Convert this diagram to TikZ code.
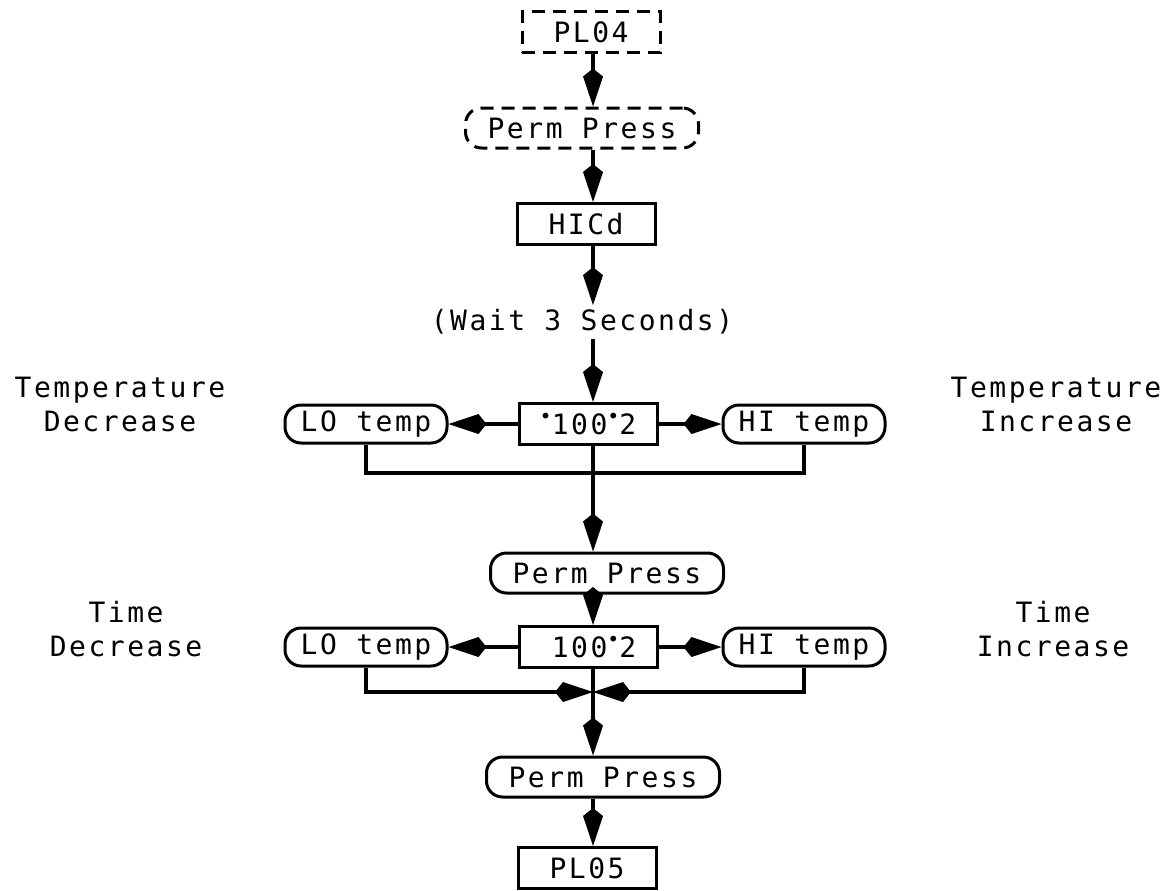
\documentclass[tikz,border=0pt]{standalone}
\usepackage{fontspec}
\setmonofont[LetterSpace=9]{DejaVu Sans Mono}
\usepackage{tikz}
\usetikzlibrary{arrows.meta}

% small raised dot of the display
\newcommand{\topdot}{\raisebox{0.4em}{\fontsize{10}{10}\selectfont •}}

\begin{document}
\begin{tikzpicture}[
  x=0.5pt,y=-0.5pt,
  font=\ttfamily\fontsize{14}{17}\selectfont,
  every node/.style={align=center},
  displayBox/.style={draw,line width=1.5pt,minimum width=69pt,minimum height=20.5pt,inner sep=0pt},
  dashedBox/.style={displayBox,dash pattern=on 6.5pt off 4pt},
  keyPill/.style={draw,line width=1.5pt,rounded corners=8pt,minimum width=116.5pt,minimum height=20pt,inner sep=0pt},
  dashedPill/.style={keyPill,dash pattern=on 6.5pt off 4pt},
  shortPill/.style={keyPill,minimum width=81pt,minimum height=19pt},
  waitText/.style={inner sep=2pt},
  sideLabel/.style={inner sep=0pt},
  flowArrow/.style={-{Kite[length=19pt,width=10pt,inset=4pt]},line width=1.7pt},
  bracketLine/.style={line width=1.7pt}]

  \useasboundingbox (0,0) rectangle (1174,890);

  % axis of the main flow
  \coordinate (axis) at (593,0);

  % start of the sequence
  \node[dashedBox] (pl04) at (591,32) {PL04};
  \node[dashedPill] (permA) at (582,128) {Perm Press};
  \node[displayBox] (hicd) at (586,224) {HICd};
  \node[waitText] (wait) at (582,322) {(Wait 3 Seconds)};

  % temperature setting
  \node[displayBox] (tdisp) at (588,424) {\topdot100\topdot2};
  \node[shortPill] (tlo) at (366,424) {LO temp};
  \node[shortPill] (thi) at (804,424) {HI temp};
  \node[sideLabel] (tdec) at (120,404) {Temperature\\Decrease};
  \node[sideLabel] (tinc) at (1056,404) {Temperature\\Increase};
  \node[keyPill] (permB) at (607,573) {Perm Press};
  \coordinate (tjoin) at (593,473);

  % time setting
  \node[displayBox] (mdisp) at (588,647) {\phantom{\topdot}100\topdot2};
  \node[shortPill] (mlo) at (366,647) {LO temp};
  \node[shortPill] (mhi) at (804,647) {HI temp};
  \node[sideLabel] (mdec) at (126,629) {Time\\Decrease};
  \node[sideLabel] (minc) at (1053,629) {Time\\Increase};
  \node[keyPill] (permC) at (603,777) {Perm Press};
  \node[displayBox] (pl05) at (587,868) {PL05};
  \coordinate (mjoin) at (593,692);

  % main flow
  \draw[flowArrow] (pl04.south -| axis) -- (permA.north -| axis);
  \draw[flowArrow] (permA.south -| axis) -- (hicd.north -| axis);
  \draw[flowArrow] (hicd.south -| axis) -- (wait.north -| axis);
  \draw[flowArrow] (wait.south -| axis) -- (tdisp.north -| axis);

  % temperature keys
  \draw[flowArrow] (tdisp) -- (tlo);
  \draw[flowArrow] (tdisp) -- (thi);
  \draw[bracketLine] (tlo.south) |- (tjoin) -| (thi.south);
  \draw[flowArrow] (tdisp.south -| axis) -- (permB.north -| axis);
  \draw[flowArrow] (permB.south -| axis) -- (mdisp.north -| axis);

  % time keys
  \draw[flowArrow] (mdisp) -- (mlo);
  \draw[flowArrow] (mdisp) -- (mhi);
  \draw[flowArrow] (mlo.south) |- (mjoin);
  \draw[flowArrow] (mhi.south) |- (mjoin);
  \draw[flowArrow] (mdisp.south -| axis) -- (permC.north -| axis);
  \draw[flowArrow] (permC.south -| axis) -- (pl05.north -| axis);

\end{tikzpicture}
\end{document}
